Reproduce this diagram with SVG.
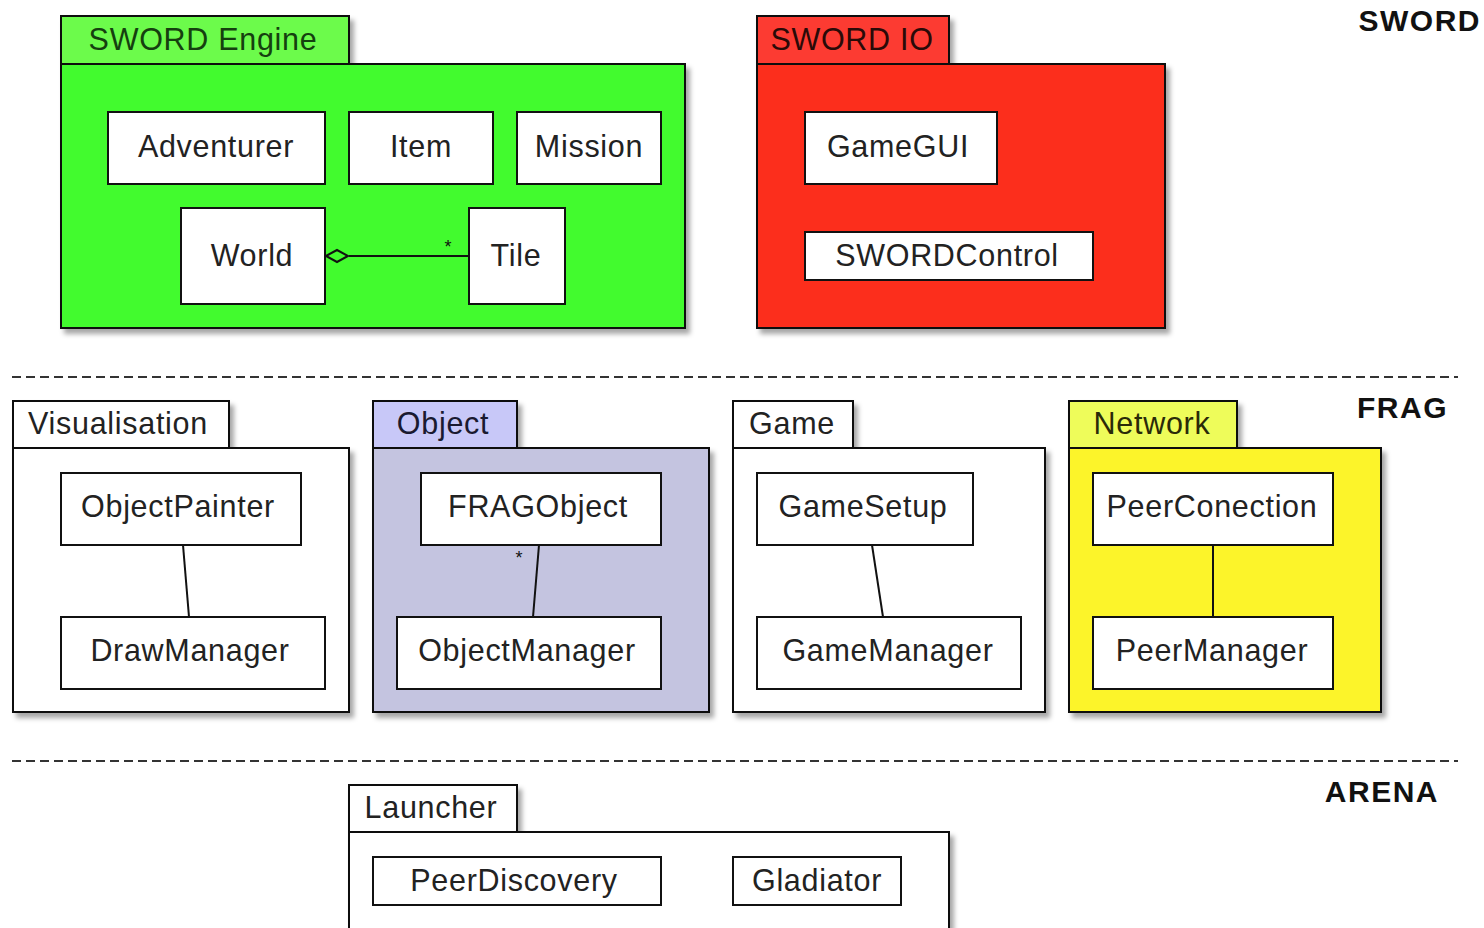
<svg xmlns="http://www.w3.org/2000/svg" width="1484" height="928" viewBox="0 0 1484 928">
<style>
.pk{stroke:#111;stroke-width:2}
.cls{fill:#fff;stroke:#111;stroke-width:2}
.t{font-family:"Liberation Sans",Arial,sans-serif;font-size:30.5px;letter-spacing:0.7px;fill:#222;text-anchor:middle}
.lay{font-family:"Liberation Sans",Arial,sans-serif;font-size:30px;letter-spacing:1.5px;font-weight:bold;fill:#111;text-anchor:end}
.sep{stroke:#333;stroke-width:2;stroke-dasharray:9 5;fill:none}
.ln{stroke:#111;stroke-width:2;fill:none}
</style>
<defs>
<filter id="sh" x="-5%" y="-5%" width="115%" height="115%">
<feDropShadow dx="4" dy="5" stdDeviation="2.5" flood-color="#000" flood-opacity="0.35"/>
</filter>
</defs>
<rect width="1484" height="928" fill="#fff"/>

<text class="lay" x="1481" y="31">SWORD</text>
<text class="lay" x="1448" y="418">FRAG</text>
<text class="lay" x="1439" y="802">ARENA</text>

<path class="sep" d="M12 377H1458"/>
<path class="sep" d="M12 761H1458"/>

<g id="sword-engine">
<g filter="url(#sh)">
<rect class="pk" x="61" y="16" width="288" height="48" fill="#6cfb4c"/>
<rect class="pk" x="61" y="64" width="624" height="264" fill="#43fb2d"/>
</g>
<text class="t" x="203" y="50" style="fill:#15400f">SWORD Engine</text>
<g id="Adventurer"><rect class="cls" x="108" y="112" width="217" height="72"/><text class="t" x="216" y="157">Adventurer</text></g>
<g id="Item"><rect class="cls" x="349" y="112" width="144" height="72"/><text class="t" x="421" y="157">Item</text></g>
<g id="Mission"><rect class="cls" x="517" y="112" width="144" height="72"/><text class="t" x="589" y="157">Mission</text></g>
<g id="World"><rect class="cls" x="181" y="208" width="144" height="96"/><text class="t" x="252" y="266">World</text></g>
<g id="Tile"><rect class="cls" x="469" y="208" width="96" height="96"/><text class="t" x="516" y="266">Tile</text></g>
</g>

<g id="sword-io">
<g filter="url(#sh)">
<rect class="pk" x="757" y="16" width="192" height="48" fill="#fc3a32"/>
<rect class="pk" x="757" y="64" width="408" height="264" fill="#fc2e1c"/>
</g>
<text class="t" x="852" y="50" style="fill:#2a0a08">SWORD IO</text>
<g id="GameGUI"><rect class="cls" x="805" y="112" width="192" height="72"/><text class="t" x="898" y="157">GameGUI</text></g>
<g id="SWORDControl"><rect class="cls" x="805" y="232" width="288" height="48"/><text class="t" x="947" y="266">SWORDControl</text></g>
</g>

<g id="visualisation">
<g filter="url(#sh)">
<rect class="pk" x="13" y="401" width="216" height="47" fill="#fff"/>
<rect class="pk" x="13" y="448" width="336" height="264" fill="#fff"/>
</g>
<text class="t" x="118" y="434">Visualisation</text>
<g id="ObjectPainter"><rect class="cls" x="61" y="473" width="240" height="72"/><text class="t" x="178" y="517">ObjectPainter</text></g>
<g id="DrawManager"><rect class="cls" x="61" y="617" width="264" height="72"/><text class="t" x="190" y="661">DrawManager</text></g>
</g>

<g id="object">
<g filter="url(#sh)">
<rect class="pk" x="373" y="401" width="144" height="47" fill="#c8c8f8"/>
<rect class="pk" x="373" y="448" width="336" height="264" fill="#c4c4e0"/>
</g>
<text class="t" x="443" y="434" style="fill:#1a1a30">Object</text>
<g id="FRAGObject"><rect class="cls" x="421" y="473" width="240" height="72"/><text class="t" x="538" y="517">FRAGObject</text></g>
<g id="ObjectManager"><rect class="cls" x="397" y="617" width="264" height="72"/><text class="t" x="527" y="661">ObjectManager</text></g>
</g>

<g id="game">
<g filter="url(#sh)">
<rect class="pk" x="733" y="401" width="120" height="47" fill="#fff"/>
<rect class="pk" x="733" y="448" width="312" height="264" fill="#fff"/>
</g>
<text class="t" x="792" y="434">Game</text>
<g id="GameSetup"><rect class="cls" x="757" y="473" width="216" height="72"/><text class="t" x="863" y="517">GameSetup</text></g>
<g id="GameManager"><rect class="cls" x="757" y="617" width="264" height="72"/><text class="t" x="888" y="661">GameManager</text></g>
</g>

<g id="network">
<g filter="url(#sh)">
<rect class="pk" x="1069" y="401" width="168" height="47" fill="#eefc5a"/>
<rect class="pk" x="1069" y="448" width="312" height="264" fill="#fcf42c"/>
</g>
<text class="t" x="1152" y="434" style="fill:#2a2a08">Network</text>
<g id="PeerConection"><rect class="cls" x="1093" y="473" width="240" height="72"/><text class="t" x="1212" y="517">PeerConection</text></g>
<g id="PeerManager"><rect class="cls" x="1093" y="617" width="240" height="72"/><text class="t" x="1212" y="661">PeerManager</text></g>
</g>

<g id="launcher">
<g filter="url(#sh)">
<rect class="pk" x="349" y="785" width="168" height="47" fill="#fff"/>
<rect class="pk" x="349" y="832" width="600" height="110" fill="#fff"/>
</g>
<text class="t" x="431" y="818">Launcher</text>
<g id="PeerDiscovery"><rect class="cls" x="373" y="857" width="288" height="48"/><text class="t" x="514" y="891">PeerDiscovery</text></g>
<g id="Gladiator"><rect class="cls" x="733" y="857" width="168" height="48"/><text class="t" x="817" y="891">Gladiator</text></g>
</g>

<g id="connectors">
<path class="ln" d="M349 256H469"/>
<path class="ln" d="M326 256L337 250L348 256L337 262Z"/>
<text x="448" y="253" style="font-family:'Liberation Sans',Arial,sans-serif;font-size:18px;fill:#111;text-anchor:middle">*</text>
<path class="ln" d="M183 545L189 617"/>
<path class="ln" d="M539 545L533 617"/>
<text x="519" y="564" style="font-family:'Liberation Sans',Arial,sans-serif;font-size:18px;fill:#111;text-anchor:middle">*</text>
<path class="ln" d="M872 545L883 617"/>
<path class="ln" d="M1213 545V617"/>
</g>
</svg>
